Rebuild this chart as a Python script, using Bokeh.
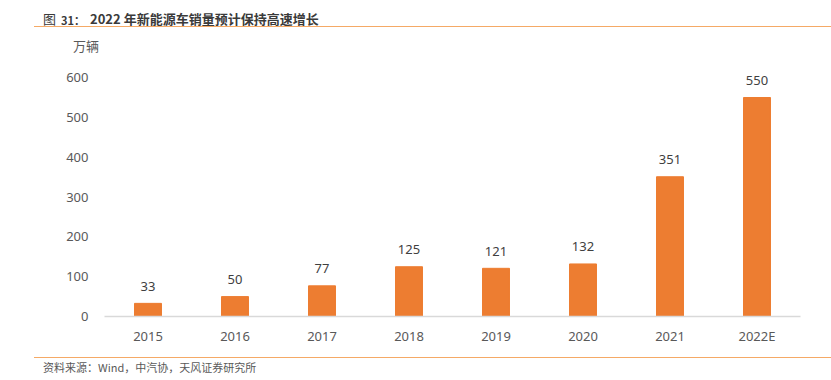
from bokeh.plotting import figure
from bokeh.models import FactorRange, FixedTicker, ColumnDataSource, Div
from bokeh.layouts import column
from bokeh.core.properties import value
from bokeh.embed import file_html
from bokeh.resources import INLINE

years = ["2015", "2016", "2017", "2018", "2019", "2020", "2021", "2022E"]
sales = [33, 50, 77, 125, 121, 132, 351, 550]
y_ticks = [0, 100, 200, 300, 400, 500, 600]

title_fig = "图"
title_num = "31："
title_text = "2022 年新能源车销量预计保持高速增长"
unit_text = "万辆"
source_text = "资料来源：Wind，中汽协，天风证券研究所"

FONT = "Noto Sans"
CJK = "'Noto Sans CJK SC', 'Noto Sans', sans-serif"
LINE = "#F5AA66"

src = ColumnDataSource(dict(x=years, y=sales, t=[str(v) for v in sales]))

title_html = f"""<div style="position:relative;width:831px;height:56px;">
<span style="position:absolute;left:43px;top:11px;line-height:16px;white-space:nowrap;font-family:{CJK};font-size:13px;color:#3A3A3A;">{title_fig}</span>
<span style="position:absolute;left:61px;top:12px;line-height:16px;white-space:nowrap;font-family:{CJK};font-size:11px;font-weight:bold;color:#3A3A3A;">{title_num}</span>
<span style="position:absolute;left:90px;top:11px;line-height:16px;white-space:nowrap;font-family:{CJK};font-size:13px;font-weight:bold;color:#3A3A3A;">{title_text}</span>
<div style="position:absolute;left:34px;top:26px;width:797px;height:0;border-top:1.5px solid {LINE};"></div>
<span style="position:absolute;left:73px;top:38px;line-height:16px;white-space:nowrap;font-family:{CJK};font-size:13px;color:#595959;">{unit_text}</span>
</div>"""

source_html = f"""<div style="position:relative;width:831px;height:30px;">
<div style="position:absolute;left:34px;top:7px;width:797px;height:0;border-top:1.5px solid {LINE};"></div>
<span style="position:absolute;left:43px;top:10px;line-height:14px;white-space:nowrap;font-family:{CJK};font-size:11px;color:#595959;">{source_text}</span>
</div>"""

title_div = Div(text=title_html, width=831, height=56, margin=0)
source_div = Div(text=source_html, width=831, height=30, margin=0)

p = figure(width=831, height=294, x_range=FactorRange(*years), y_range=(0, 653),
           output_backend="svg", toolbar_location=None, margin=0,
           min_border_left=104, min_border_right=31, min_border_top=0, min_border_bottom=34)
p.title.text = ""
p.outline_line_color = None
p.xgrid.grid_line_color = None
p.ygrid.grid_line_color = None

p.vbar(x="x", top="y", width=0.31, source=src, color="#ED7D31", line_color="#ED7D31")
p.text(x="x", y="y", text="t", source=src, text_align="center", text_baseline="middle",
       y_offset=-17, text_font_size="13px", text_color="#404040",
       text_font=value(FONT))

p.yaxis.ticker = FixedTicker(ticks=y_ticks)
p.yaxis.axis_line_color = None
p.yaxis.major_tick_line_color = None
p.yaxis.minor_tick_line_color = None
p.yaxis.major_tick_out = 0
p.yaxis.major_label_standoff = 16
p.yaxis.major_label_text_font = FONT
p.yaxis.major_label_text_font_size = "13px"
p.yaxis.major_label_text_color = "#595959"

p.xaxis.axis_line_color = "#D9D9D9"
p.xaxis.axis_line_width = 1.5
p.xaxis.major_tick_line_color = None
p.xaxis.minor_tick_line_color = None
p.xaxis.major_tick_out = 0
p.xaxis.major_label_standoff = 10
p.xaxis.major_label_text_font = FONT
p.xaxis.major_label_text_font_size = "13px"
p.xaxis.major_label_text_color = "#595959"

layout = column(title_div, p, source_div, spacing=0, margin=0)
open("out.html", "w").write(file_html(layout, INLINE))
